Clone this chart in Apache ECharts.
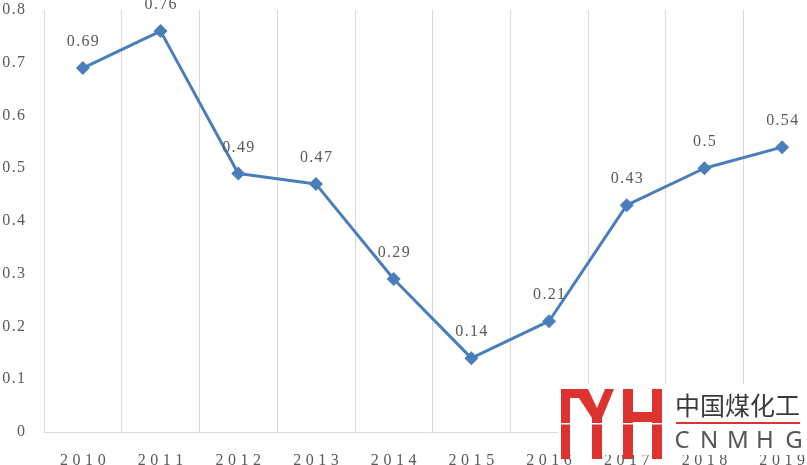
<!DOCTYPE html>
<html>
<head>
<meta charset="utf-8">
<script src="https://cdn.jsdelivr.net/npm/echarts@6/dist/echarts.min.js"></script>
<style>html,body{margin:0;padding:0;background:#fff;}#c{width:807px;height:465px;}</style>
</head>
<body>
<div id="c"></div>
<script>
var years = ['2010','2011','2012','2013','2014','2015','2016','2017','2018','2019'];
var values = [0.69, 0.76, 0.49, 0.47, 0.29, 0.14, 0.21, 0.43, 0.5, 0.54];
var yTicks = [0, 0.1, 0.2, 0.3, 0.4, 0.5, 0.6, 0.7, 0.8];

function spaced(s, sep){ return String(s).split('').join(sep); }

var chart = echarts.init(document.getElementById('c'));
var red = '#dc3330';
var serif = '"Liberation Serif","Times New Roman",serif';
chart.setOption({
  animation: false,
  backgroundColor: '#fff',
  grid: {left: 44, top: 10, width: 777, height: 422, containLabel: false, outerBoundsMode: 'none'},
  xAxis: {
    type: 'category', data: years, boundaryGap: true,
    axisLine: {show: true, lineStyle: {color: '#d9d9d9', width: 1}},
    axisTick: {show: false},
    splitLine: {show: true, lineStyle: {color: '#d9d9d9', width: 1}},
    axisLabel: {color: '#595959', fontFamily: serif, fontSize: 16, margin: 21,
      formatter: function(v){ return spaced(v, '\u2009\u200A'); }}
  },
  yAxis: {
    type: 'value', min: 0, max: 0.8, interval: 0.1,
    axisLine: {show: false}, axisTick: {show: false}, splitLine: {show: false},
    axisLabel: {color: '#595959', fontFamily: serif, fontSize: 16, margin: 19,
      formatter: function(v){ var t = yTicks.indexOf(Math.round(v*10)/10) >= 0 ? String(Math.round(v*10)/10) : String(v); return spaced(t, '\u200A'); }}
  },
  series: [{
    type: 'line', data: values,
    lineStyle: {color: '#4a7ebb', width: 3},
    itemStyle: {color: '#4a7ebb'},
    symbol: 'diamond', symbolSize: 14,
    label: {show: true, position: 'top', distance: 11, color: '#595959', fontFamily: serif, fontSize: 16,
      formatter: function(p){ return spaced(p.value, '\u200A'); }}
  }],
  graphic: [
    {type: 'rect', shape: {x: 558, y: 384, width: 249, height: 71}, style: {fill: '#fff'}, z: 100},
    {type: 'polygon', shape: {points: [[561,389],[588,389],[597,408],[605,389],[614,389],[602,418],[602,459],[592,459],[592,418],[579,398],[570,398],[570,459],[561,459]]}, style: {fill: red}, z: 101},
    {type: 'rect', shape: {x: 623, y: 389, width: 10, height: 70}, style: {fill: red}, z: 101},
    {type: 'rect', shape: {x: 652, y: 389, width: 10, height: 70}, style: {fill: red}, z: 101},
    {type: 'rect', shape: {x: 633, y: 412, width: 19, height: 10}, style: {fill: red}, z: 101},
    {type: 'rect', shape: {x: 558, y: 423, width: 106, height: 1.5}, style: {fill: '#fff'}, z: 102},
    {type: 'text', x: 675, y: 393, style: {text: '中国煤化工', fill: '#3a3a3a', font: '25px "Noto Sans CJK SC"'}, z: 101},
    {type: 'rect', shape: {x: 676, y: 422, width: 124, height: 2}, style: {fill: red}, z: 101},
    {type: 'text', x: 682, y: 429, style: {text: 'C', fill: '#555', font: '24px "Noto Sans"', textAlign: 'center'}, z: 101},
    {type: 'text', x: 709, y: 429, style: {text: 'N', fill: '#555', font: '24px "Noto Sans"', textAlign: 'center'}, z: 101},
    {type: 'text', x: 738, y: 429, style: {text: 'M', fill: '#555', font: '24px "Noto Sans"', textAlign: 'center'}, z: 101},
    {type: 'text', x: 765, y: 429, style: {text: 'H', fill: '#555', font: '24px "Noto Sans"', textAlign: 'center'}, z: 101},
    {type: 'text', x: 794, y: 429, style: {text: 'G', fill: '#555', font: '24px "Noto Sans"', textAlign: 'center'}, z: 101}
  ]
});
</script>
</body>
</html>
